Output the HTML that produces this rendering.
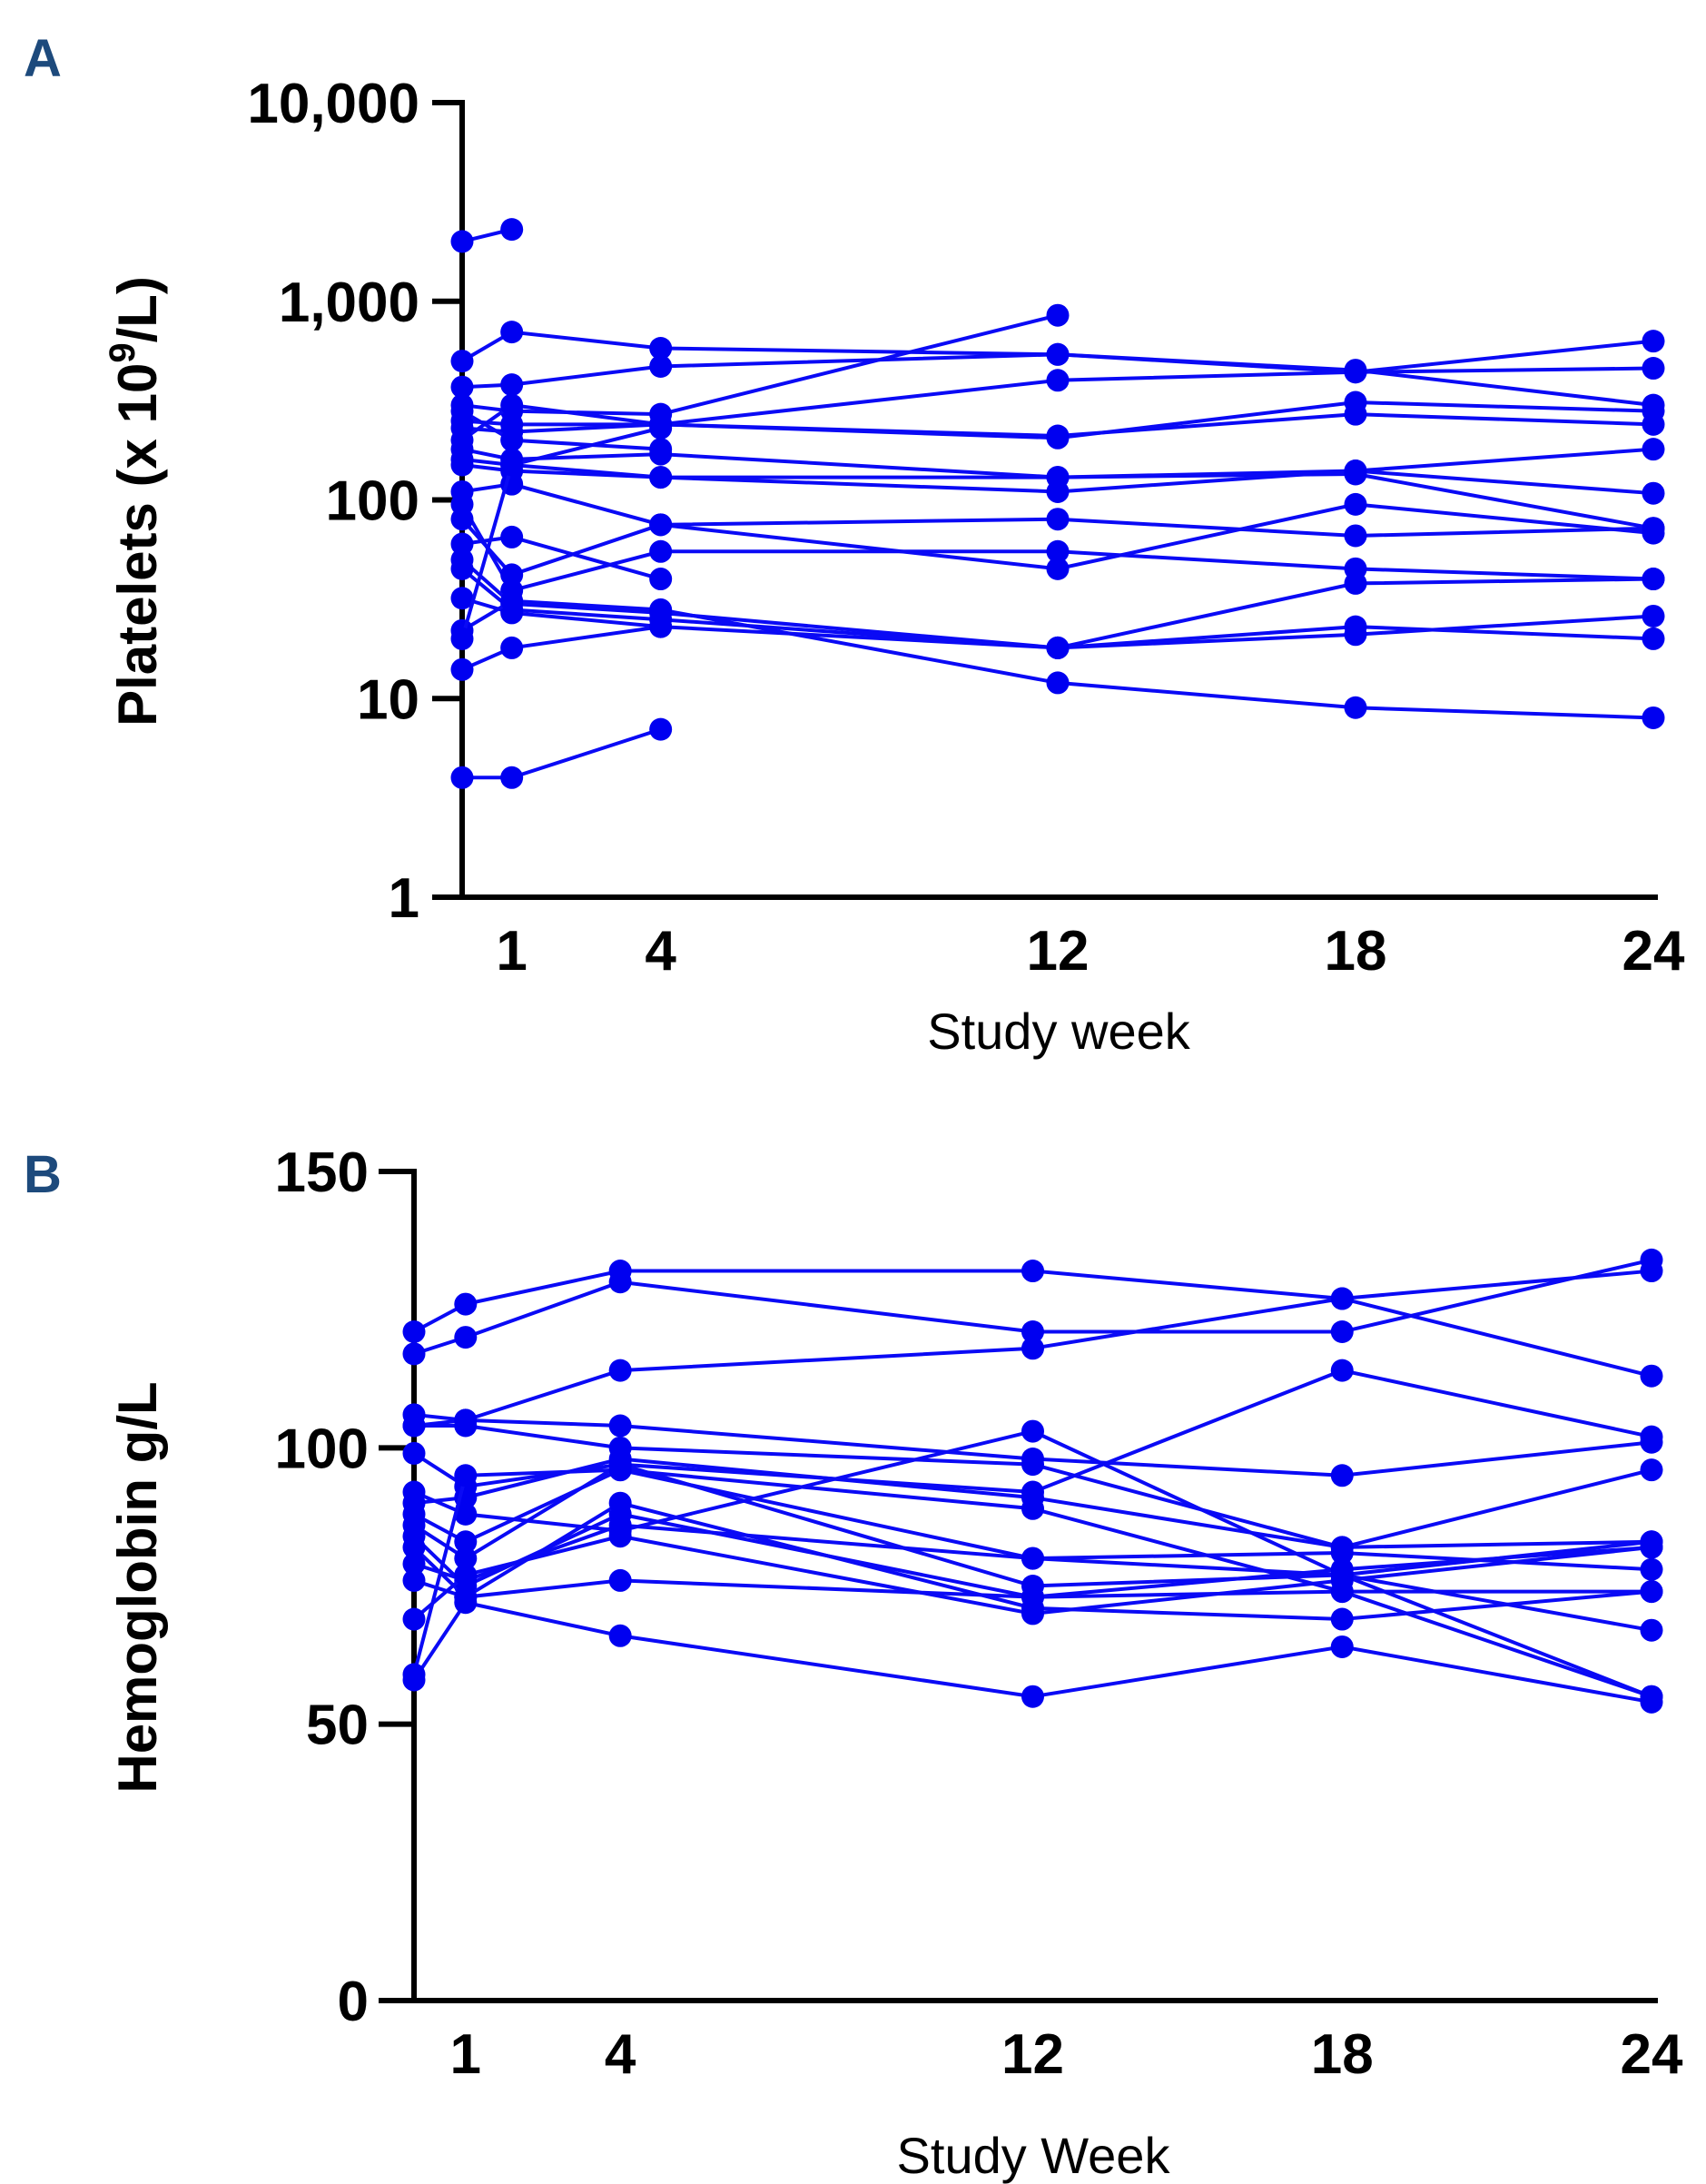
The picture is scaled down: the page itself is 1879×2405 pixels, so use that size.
<!DOCTYPE html>
<html><head><meta charset="utf-8">
<style>
html,body{margin:0;padding:0;background:#fff;}
svg{display:block;}
.tick{font-family:"Liberation Sans Narrow","Liberation Sans",sans-serif;font-weight:bold;font-size:62px;fill:#000;}
.xt{font-family:"Liberation Sans Narrow","Liberation Sans",sans-serif;font-size:56px;fill:#000;}
.yt{font-family:"Liberation Sans",sans-serif;font-weight:bold;font-size:60px;fill:#000;}
.pl{font-family:"Liberation Sans Narrow","Liberation Sans",sans-serif;font-weight:bold;font-size:58px;fill:#1d4a7c;}
</style></head>
<body>
<svg id="chart" width="1879" height="2405" viewBox="0 0 1879 2405" xmlns="http://www.w3.org/2000/svg">
<text class="pl" x="26" y="84">A</text>
<text class="pl" x="26" y="1313">B</text>
<g id="panelA"></g>
<g id="panelB"></g>
</svg>
<script>
const weeks = [0, 1, 4, 12, 18, 24];
const weekTicks = [1, 4, 12, 18, 24];
const plateletTicks = [1, 10, 100, 1000, 10000];
const plateletTickLabels = ["1", "10", "100", "1,000", "10,000"];
const plateletSeries = [
  [2000, 2300, null, null, null, null],
  [4, 4, 7, null, null, null],
  [500, 700, 580, 540, 440, 630],
  [370, 380, 470, 540, 450, 300],
  [300, 280, 270, 850, null, null],
  [250, 240, 240, 400, 440, 460],
  [230, 220, 240, 205, 310, 280],
  [200, 300, 240, 210, 270, 240],
  [180, 160, 170, 130, 140, 180],
  [160, 150, 130, 110, 140, 108],
  [150, 140, 130, 130, 135, 72],
  [110, 120, 75, 80, 66, 72],
  [95, 35, 55, 55, 45, 40],
  [80, 42, 75, 45, 95, 68],
  [60, 65, 40, null, null, null],
  [50, 30, 27, 18, 38, 40],
  [45, 28, 25, 18, 23, 20],
  [32, 27, 23, 18, 21, 26],
  [22, 31, 28, 12, 9, 8],
  [14, 18, 23, null, null, null],
  [20, 150, 230, null, null, null],
  [280, 200, 180, null, null, null]
];
const hgbTicks = [0, 50, 100, 150];
const hgbTickLabels = ["0", "50", "100", "150"];
const hgbSeries = [
  [121, 126, 132, 132, 127, 113],
  [117, 120, 130, 121, 121, 134],
  [106, 105, 114, 118, 127, 132],
  [104, 105, 104, 98, 95, 101],
  [104, 104, 100, 97, 82, 83],
  [99, 93, 97, 92, 114, 102],
  [92, 88, 85, 103, 77, 55],
  [90, 91, 98, 91, 82, 96],
  [88, 83, 96, 80, 81, 78],
  [86, 80, 97, 75, 77, 83],
  [84, 75, 88, 73, 78, 82],
  [82, 73, 90, 71, 69, 74],
  [79, 76, 86, 80, 77, 67],
  [76, 73, 76, 73, 74, 74],
  [69, 77, 84, 70, 76, 82],
  [58, 72, 66, 55, 64, 54],
  [59, 95, 96, 89, 74, 55]
];

const NS = "http://www.w3.org/2000/svg";
function mk(tag, attrs, parent) {
  const e = document.createElementNS(NS, tag);
  for (const k in attrs) e.setAttribute(k, attrs[k]);
  parent.appendChild(e);
  return e;
}

function drawPanel(g, cfg) {
  const xS = w => cfg.x0 + (cfg.x24 - cfg.x0) * w / 24;
  const yS = cfg.yS;
  const ya = mk("line", {x1: cfg.x0, y1: cfg.yTop - 3, x2: cfg.x0, y2: cfg.yBot + 3, stroke: "#000", "stroke-width": 6}, g);
  
  
  const xa = mk("line", {x1: cfg.x0 - 3, y1: cfg.yBot, x2: cfg.xEnd, y2: cfg.yBot, stroke: "#000", "stroke-width": 6}, g);
  
  
  cfg.ticks.forEach((v, i) => {
    const y = yS(v);
    const t = mk("line", {x1: cfg.tickX, y1: y, x2: cfg.x0, y2: y, stroke: "#000", "stroke-width": 6}, g);
    
    
    const tx = mk("text", {x: cfg.labelX, y: y + 22, "text-anchor": "end", class: "tick"}, g);
    tx.textContent = cfg.tickLabels[i];
    
    
  });
  weekTicks.forEach(w => {
    const tx = mk("text", {x: xS(w), y: cfg.xLabelY, "text-anchor": "middle", class: "tick"}, g);
    tx.textContent = String(w);
    
    
  });
  const xt = mk("text", {x: cfg.xTitleX, y: cfg.xTitleY, "text-anchor": "middle", class: "xt"}, g);
  xt.textContent = cfg.xTitle;
  
  
  const yt = mk("text", {x: 0, y: 0, "text-anchor": "middle", class: "yt", transform: "translate(" + cfg.yTitleX + "," + cfg.yTitleY + ") rotate(-90)"}, g);
  if (cfg.sup) {
    yt.appendChild(document.createTextNode("Platelets (x 10"));
    const ts = mk("tspan", {"font-size": "40", dy: "-24"}, yt);
    ts.textContent = "9";
    const ts2 = mk("tspan", {dy: "24"}, yt);
    ts2.textContent = "/L)";
  } else {
    yt.textContent = cfg.yTitle;
  }
  
  
  cfg.series.forEach((s) => {
    let pts = [];
    s.forEach((v, i) => { if (v !== null) pts.push([xS(weeks[i]), yS(v)]); });
    const pl = mk("polyline", {points: pts.map(p => p.join(",")).join(" "), fill: "none", stroke: "#0a0af5", "stroke-width": 4}, g);
    
    
    pts.forEach(p => {
      const c = mk("circle", {cx: p[0], cy: p[1], r: 12.5, fill: "#0000f0"}, g);
      
      
    });
  });
}

const yTopA = 113, yBotA = 988;
drawPanel(document.getElementById("panelA"), {
  x0: 509, x24: 1821, xEnd: 1826, yTop: yTopA, yBot: yBotA,
  yS: v => yBotA - (yBotA - yTopA) * Math.log10(v) / 4,
  ticks: plateletTicks, tickLabels: plateletTickLabels,
  tickX: 476, labelX: 462, xLabelY: 1068,
  xTitle: "Study week", xTitleX: 1166, xTitleY: 1155,
  sup: true, yTitleX: 172, yTitleY: 552, series: plateletSeries
});
const yTopB = 1290, yBotB = 2203;
drawPanel(document.getElementById("panelB"), {
  x0: 456, x24: 1819, xEnd: 1826, yTop: yTopB, yBot: yBotB,
  yS: v => yBotB - (yBotB - yTopB) * v / 150,
  ticks: hgbTicks, tickLabels: hgbTickLabels,
  tickX: 417, labelX: 406, xLabelY: 2283,
  xTitle: "Study Week", xTitleX: 1138, xTitleY: 2393,
  sup: false, yTitle: "Hemoglobin g/L", yTitleX: 172, yTitleY: 1748, series: hgbSeries
});
</script>
</body></html>
